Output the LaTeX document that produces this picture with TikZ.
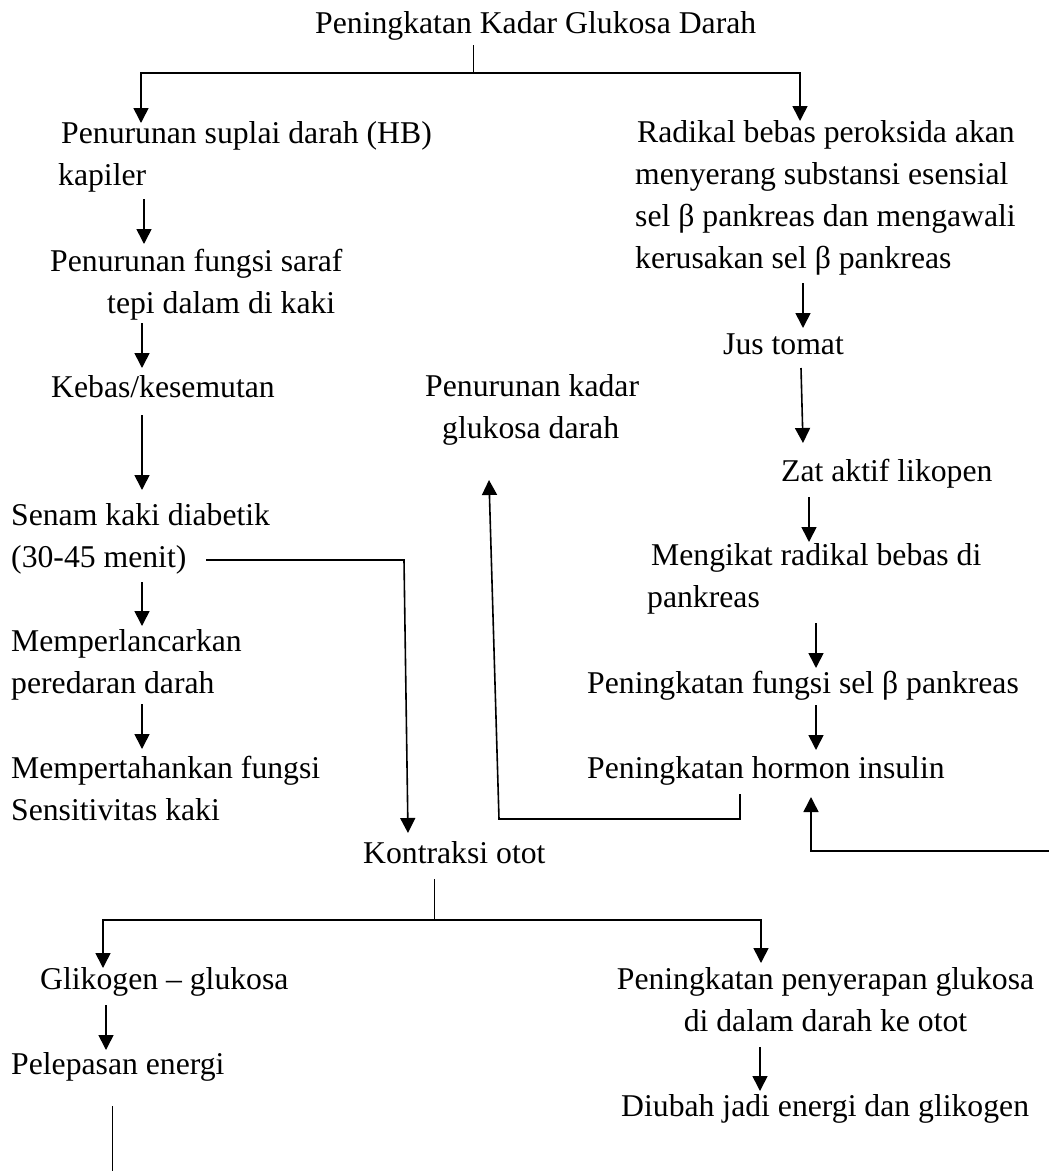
\documentclass[tikz,border=0pt]{standalone}
\usepackage{fontspec}
\setmainfont{Liberation Serif}
\usetikzlibrary{arrows.meta}

\tikzset{
  txt/.style={anchor=base west, inner sep=0pt, align=left,
              font=\fontsize{31.7}{41.7}\selectfont},
  arr/.style={-{Triangle[length=15pt,width=15pt]}, line width=1.6pt},
  thinline/.style={line width=0.9pt},
  branch/.style={line width=1.5pt}
}

\begin{document}
\begin{tikzpicture}[x=1pt,y=-1pt]
\useasboundingbox (0,0) rectangle (1049,1171);

% text blocks (multi-line ones placed at their last line)
\node[txt] (title) at (315,33) {Peningkatan Kadar Glukosa Darah};
\node[txt] (supl) at (58,185) {\hspace*{3pt}Penurunan suplai darah (HB)\\kapiler};
\node[txt] (saraf) at (50,313) {Penurunan fungsi saraf\\\hspace*{57pt}tepi dalam di kaki};
\node[txt] (kebas) at (51,397) {Kebas/kesemutan};
\node[txt] (senam) at (11,567) {Senam kaki diabetik\\(30-45 menit)};
\node[txt] (lancar) at (11,693) {Memperlancarkan\\peredaran darah};
\node[txt] (tahan) at (11,820) {Mempertahankan fungsi\\Sensitivitas kaki};

\node[txt] (radikal) at (635,268) {\hspace*{2pt}Radikal bebas peroksida akan\\menyerang substansi esensial\\sel β pankreas dan mengawali\\kerusakan sel β pankreas};
\node[txt] (jus) at (723,354) {Jus tomat};
\node[txt] (turun) at (425,438) {Penurunan kadar\\\hspace*{17pt}glukosa darah};
\node[txt] (zat) at (781,481) {Zat aktif likopen};
\node[txt] (ikat) at (647,607) {\hspace*{4pt}Mengikat radikal bebas di\\pankreas};
\node[txt] (fungsi) at (587,693) {Peningkatan fungsi sel β pankreas};
\node[txt] (insulin) at (587,778) {Peningkatan hormon insulin};

\node[txt] (kontraksi) at (363,863) {Kontraksi otot};
\node[txt] (glikogen) at (40,989) {Glikogen – glukosa};
\node[txt] (lepas) at (11,1074) {Pelepasan energi};
\node[txt, anchor=base, align=center] (serap) at (825.5,1031) {Peningkatan penyerapan glukosa\\di dalam darah ke otot};
\node[txt] (ubah) at (621,1116) {Diubah jadi energi dan glikogen};

% split points and free ends
\coordinate (split1) at (473,73);
\coordinate (split2) at (434,920);
\coordinate (edge) at (1049,851);
\coordinate (cut) at (112,1171);

% top split
\draw[thinline] ([shift={(158,12)}]title.base west) -- (split1);
\draw[arr] (split1) -| ([shift={(83,-62)}]supl.base west);
\draw[arr] (split1) -| ([shift={(165,-147)}]radikal.base west);

% left chain
\draw[arr] ([shift={(86,14)}]supl.base west) -- ([shift={(94,-69)}]saraf.base west);
\draw[arr] ([shift={(92,10)}]saraf.base west) -- ([shift={(91,-29)}]kebas.base west);
\draw[arr] ([shift={(91,18)}]kebas.base west) -- ([shift={(131,-77)}]senam.base west);
\draw[arr] ([shift={(131,15)}]senam.base west) -- ([shift={(131,-67)}]lancar.base west);
\draw[arr] ([shift={(131,11)}]lancar.base west) -- ([shift={(131,-71)}]tahan.base west);
\draw[arr] ([shift={(195,-7)}]senam.base west) -- ++(198,0) -- ([shift={(45,-30)}]kontraksi.base west);

% right chain
\draw[arr] ([shift={(168,15)}]radikal.base west) -- ([shift={(80,-26)}]jus.base west);
\draw[arr] ([shift={(78,14)}]jus.base west) -- ([shift={(22,-38)}]zat.base west);
\draw[arr] ([shift={(28,16)}]zat.base west) -- ([shift={(162,-65)}]ikat.base west);
\draw[arr] ([shift={(169,16)}]ikat.base west) -- ([shift={(229,-25)}]fungsi.base west);
\draw[arr] ([shift={(229,12)}]fungsi.base west) -- ([shift={(229,-28)}]insulin.base west);
\draw[arr] ([shift={(153,16)}]insulin.base west) -- ++(0,25) -- ++(-241,0) -- ([shift={(64,42)}]turun.base west);
\draw[arr] (edge) -| ([shift={(224,19)}]insulin.base west);

% bottom split
\draw[thinline] ([shift={(71,16)}]kontraksi.base west) -- (split2);
\draw[arr] (split2) -| ([shift={(63,-21)}]glikogen.base west);
\draw[arr] (split2) -| ([shift={(-64.5,-68)}]serap.base);
\draw[arr] ([shift={(66,16)}]glikogen.base west) -- ([shift={(95,-24)}]lepas.base west);
\draw[thinline] ([shift={(101,32)}]lepas.base west) -- (cut);
\draw[arr] ([shift={(-65.5,16)}]serap.base) -- ([shift={(139,-25)}]ubah.base west);
\end{tikzpicture}
\end{document}
